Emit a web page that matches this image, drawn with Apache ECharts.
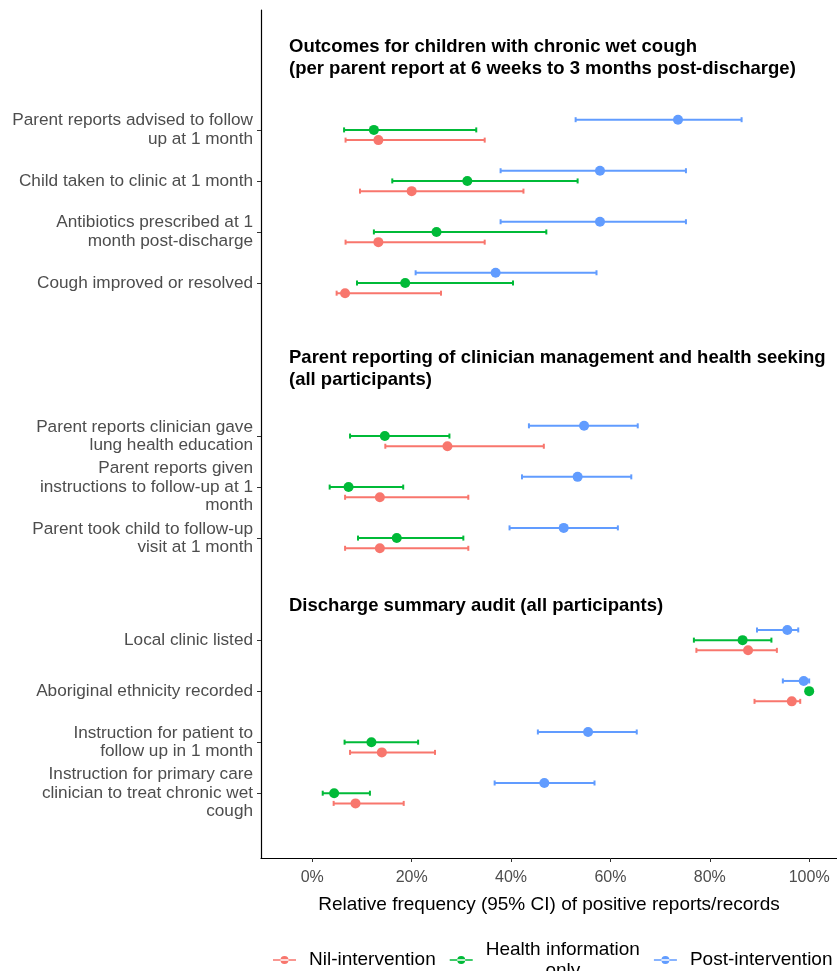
<!DOCTYPE html>
<html>
<head>
<meta charset="utf-8">
<script src="https://cdn.jsdelivr.net/npm/echarts@6/dist/echarts.min.js"></script>
<style>
html, body { margin: 0; padding: 0; background: #fff; }
#main { width: 837px; height: 971px; }
</style>
</head>
<body>
<div id="main"></div>
<script>
// outcome rows, top to bottom
var rowLabels = [
    'Parent reports advised to follow\nup at 1 month',
    'Child taken to clinic at 1 month',
    'Antibiotics prescribed at 1\nmonth post-discharge',
    'Cough improved or resolved',
    'Parent reports clinician gave\nlung health education',
    'Parent reports given\ninstructions to follow-up at 1\nmonth',
    'Parent took child to follow-up\nvisit at 1 month',
    'Local clinic listed',
    'Aboriginal ethnicity recorded',
    'Instruction for patient to\nfollow up in 1 month',
    'Instruction for primary care\nclinician to treat chronic wet\ncough'
];
// slot of each row on the y scale (empty slots hold the section headings)
var rowSlot = [2, 3, 4, 5, 8, 9, 10, 12, 13, 14, 15];

var groupNames = ['Nil-intervention', 'Health information only', 'Post-intervention'];

// relative frequency (%) and 95% CI
var nilEst  = [13.3, 20.0, 13.3,  6.6, 27.2, 13.6, 13.6, 87.7, 96.5, 14.0,  8.7];
var nilLow  = [ 6.7,  9.6,  6.7,  4.9, 14.7,  6.6,  6.6, 77.3, 89.0,  7.6,  4.3];
var nilHigh = [34.7, 42.5, 34.7, 25.9, 46.6, 31.4, 31.4, 93.5, 98.2, 24.7, 18.4];

var hiEst  = [12.4, 31.2, 25.0, 18.7, 14.6,  7.3, 17.0, 86.6, 100, 11.9,  4.4];
var hiLow  = [ 6.4, 16.1, 12.4,  9.0,  7.6,  3.5,  9.2, 76.8, 100,  6.5,  2.1];
var hiHigh = [33.0, 53.4, 47.1, 40.4, 27.6, 18.3, 30.4, 92.4, 100, 21.3, 11.6];

var postEst  = [73.6, 57.9, 57.9, 36.9, 54.7, 53.4, 50.6, 95.6, 98.9, 55.5, 46.7];
var postLow  = [53.0, 37.9, 37.9, 20.8, 43.6, 42.2, 39.7, 89.5, 94.7, 45.4, 36.7];
var postHigh = [86.4, 75.2, 75.2, 57.2, 65.5, 64.2, 61.5, 97.8, 100, 65.3, 56.8];

var xTicks = [0, 20, 40, 60, 80, 100];

var colors = ['#F8766D', '#00BA38', '#619CFF'];
var dodge = [0.2, 0, -0.2];
var FONT = '"Liberation Sans", Arial, sans-serif';

var groups = [
    {est: nilEst, low: nilLow, high: nilHigh},
    {est: hiEst, low: hiLow, high: hiHigh},
    {est: postEst, low: postLow, high: postHigh}
];

function errorBar(params, api) {
    var y = api.value(0);
    var a = api.coord([api.value(1), y]);
    var b = api.coord([api.value(2), y]);
    var cap = 2.5;
    var st = {stroke: api.visual('color'), lineWidth: 2};
    return {
        type: 'group',
        children: [
            {type: 'line', shape: {x1: a[0], y1: a[1], x2: b[0], y2: b[1]}, style: st},
            {type: 'line', shape: {x1: a[0], y1: a[1] - cap, x2: a[0], y2: a[1] + cap}, style: st},
            {type: 'line', shape: {x1: b[0], y1: b[1] - cap, x2: b[0], y2: b[1] + cap}, style: st}
        ]
    };
}

var series = [];
groups.forEach(function (g, k) {
    series.push({
        name: groupNames[k],
        type: 'custom',
        renderItem: errorBar,
        itemStyle: {color: colors[k]},
        encode: {x: [1, 2], y: 0},
        data: rowSlot.map(function (s, i) {
            return [s + dodge[k], g.low[i], g.high[i]];
        }),
        silent: true,
        z: 2
    });
    series.push({
        name: groupNames[k],
        type: 'scatter',
        symbol: 'circle',
        symbolSize: 10,
        itemStyle: {color: colors[k], opacity: 1},
        data: rowSlot.map(function (s, i) {
            return [g.est[i], s + dodge[k]];
        }),
        silent: true,
        z: 3
    });
});

var legendIcon = 'path://M0,4.2H23V5.8H0Z M7.5,5a4,4 0 1,0 8,0a4,4 0 1,0 -8,0Z';

var myChart = echarts.init(document.getElementById('main'));
var option = {
    animation: false,
    textStyle: {fontFamily: FONT},
    grid: {left: 261, right: 0, top: 10, bottom: 113, outerBoundsMode: 'none'},
    xAxis: {
        type: 'value',
        min: -10.32,
        max: 105.6,
        splitLine: {show: false},
        axisLine: {show: true, onZero: false, lineStyle: {color: '#000', width: 1.2}},
        axisTick: {show: true, customValues: xTicks, length: 4, lineStyle: {color: '#333'}},
        axisLabel: {
            customValues: xTicks,
            formatter: function (v) { return v + '%'; },
            color: '#4D4D4D',
            fontSize: 16,
            fontFamily: FONT,
            margin: 12
        },
        name: 'Relative frequency (95% CI) of positive reports/records',
        nameLocation: 'middle',
        nameGap: 37,
        nameTextStyle: {color: '#000', fontSize: 19, fontFamily: FONT}
    },
    yAxis: {
        type: 'value',
        inverse: true,
        min: -0.35,
        max: 16.27,
        splitLine: {show: false},
        axisLine: {show: true, onZero: false, lineStyle: {color: '#000', width: 1.2}},
        axisTick: {show: true, customValues: rowSlot, length: 4, lineStyle: {color: '#333'}},
        axisLabel: {
            customValues: rowSlot,
            formatter: function (v) {
                var i = rowSlot.indexOf(v);
                return i < 0 ? '' : rowLabels[i];
            },
            color: '#4D4D4D',
            fontSize: 17.2,
            lineHeight: 18.5,
            fontFamily: FONT,
            margin: 8,
            align: 'right'
        }
    },
    legend: {
        left: 273,
        top: 940,
        padding: 0,
        itemWidth: 23,
        itemHeight: 8,
        itemGap: 14,
        selectedMode: false,
        data: groupNames.map(function (n) {
            var item = {name: n, icon: legendIcon};
            if (n === 'Health information only') {
                item.textStyle = {padding: [0, 5, 0, 8]};
            }
            return item;
        }),
        formatter: function (name) {
            if (name === 'Health information only') {
                return '{c|Health information}\n{c|only}';
            }
            return name;
        },
        textStyle: {
            color: '#000',
            fontSize: 19,
            fontFamily: FONT,
            padding: [0, 0, 0, 8],
            rich: {c: {align: 'center', fontSize: 19, lineHeight: 21, color: '#000', fontFamily: FONT}}
        }
    },
    graphic: [
        {
            type: 'text', x: 289, y: 58,
            style: {
                text: 'Outcomes for children with chronic wet cough\n(per parent report at 6 weeks to 3 months post-discharge)',
                font: 'bold 18.5px ' + FONT, fill: '#000', lineHeight: 22, verticalAlign: 'middle'
            }
        },
        {
            type: 'text', x: 289, y: 369,
            style: {
                text: 'Parent reporting of clinician management and health seeking\n(all participants)',
                font: 'bold 18.5px ' + FONT, fill: '#000', lineHeight: 22, verticalAlign: 'middle'
            }
        },
        {
            type: 'text', x: 289, y: 606,
            style: {
                text: 'Discharge summary audit (all participants)',
                font: 'bold 18.5px ' + FONT, fill: '#000', verticalAlign: 'middle'
            }
        }
    ],
    series: series
};
myChart.setOption(option);
</script>
</body>
</html>
